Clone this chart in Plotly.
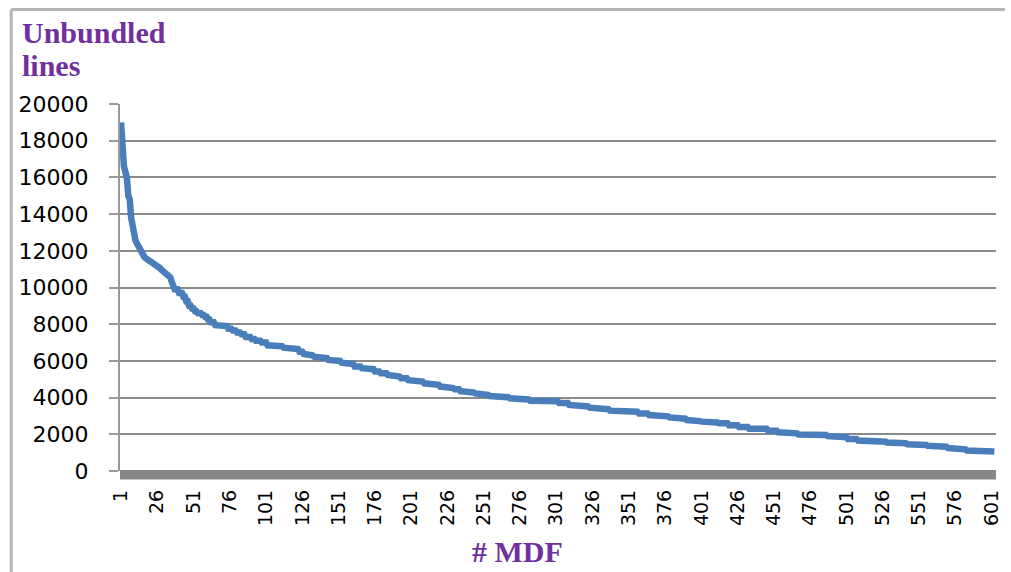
import plotly.graph_objects as go

# Unbundled lines per MDF, sorted in descending order.
# The first MDFs are listed one by one; the long tail is stored as
# runs of (lines, number of consecutive MDFs with that count).
head_lines = [
    19000, 17200, 16600, 16300, 16000, 15000, 14800, 13800, 13200, 12900,
    12550, 12400, 12250, 12000, 11850, 11750, 11680, 11600, 11550, 11500,
    11450, 11410, 11350, 11300, 11250, 11150, 11100, 11050, 10950, 10900,
    10850, 10750, 10700, 10620, 10550, 10300, 10050,
]
tail_lines = [
    9900, 9700, 9500, 9250, 9000, 8850, 8700, 8600, 8500, 8400,
    8250, 8100, 7950, 7900, 7750, 7650, 7550, 7450, 7300, 7200,
    7100, 7000, 6850, 6800, 6720, 6650, 6500, 6380, 6300, 6230,
    6150, 6050, 6000, 5900, 5830, 5700, 5600, 5550, 5420, 5330,
    5230, 5150, 5050, 4950, 4870, 4780, 4700, 4600, 4520, 4450,
    4350, 4280, 4230, 4150, 4090, 4020, 3960, 3900, 3830, 3800,
    3700, 3600, 3520, 3450, 3370, 3290, 3230, 3140, 3050, 2980,
    2920, 2850, 2780, 2720, 2690, 2640, 2600, 2500, 2400, 2300,
    2200, 2110, 2050, 1990, 1960, 1900, 1840, 1750, 1660, 1600,
    1550, 1510, 1460, 1420, 1370, 1320, 1250, 1180, 1120, 1090,
    1060,
]
tail_counts = [
    3, 3, 2, 2, 2, 2, 2, 3, 2, 2,
    2, 3, 4, 5, 3, 3, 3, 3, 4, 3,
    4, 4, 5, 6, 8, 3, 3, 3, 4, 5,
    5, 5, 4, 4, 5, 5, 5, 4, 4, 5,
    4, 5, 5, 6, 5, 5, 6, 5, 5, 4,
    5, 5, 4, 6, 7, 7, 7, 7, 7, 13,
    7, 7, 7, 7, 7, 7, 13, 7, 7, 7,
    7, 5, 6, 4, 5, 7, 7, 7, 7, 13,
    7, 7, 7, 7, 13, 7, 7, 7, 7, 13,
    7, 7, 7, 7, 7, 7, 7, 6, 7, 7,
    6,
]

lines = list(head_lines)
for value, count in zip(tail_lines, tail_counts):
    lines.extend([value] * count)
mdf = list(range(1, len(lines) + 1))

y_ticks = [0, 2000, 4000, 6000, 8000, 10000, 12000, 14000, 16000, 18000, 20000]
x_ticks = list(range(1, 602, 25))

PURPLE = "#7030A0"
GRID = "#8a8a8a"
FRAME = "#b4b4b4"

L, R, T, B = 120, 9, 104, 101
W = 1011 - L - R
H = 572 - T - B


def px_x(px):
    return (px - L) / W


def px_y(py):
    return (572 - B - py) / H


fig = go.Figure()
fig.add_trace(go.Scatter(
    x=mdf, y=lines, mode="lines",
    line=dict(color="#4A7EBB", width=6.5),
    hoverinfo="x+y", showlegend=False,
))

fig.update_layout(
    width=1011, height=572,
    margin=dict(l=L, r=R, t=T, b=B),
    paper_bgcolor="white", plot_bgcolor="white",
    font=dict(family="DejaVu Sans", color="black"),
    xaxis=dict(
        range=[0.3, 604.1], tickmode="array", tickvals=x_ticks,
        ticktext=[str(v) for v in x_ticks], tickangle=-90,
        tickfont=dict(size=19, family="DejaVu Sans"),
        showgrid=False, zeroline=False, showline=False,
        ticks="", ticklabelstandoff=14, ticklabeloverflow="allow",
    ),
    yaxis=dict(
        range=[0, 20000], tickmode="array", tickvals=y_ticks,
        ticktext=[str(v) for v in y_ticks],
        tickfont=dict(size=22, family="DejaVu Sans"),
        showgrid=True, gridcolor=GRID, gridwidth=2,
        zeroline=False, showline=True, linecolor="#9a9a9a", linewidth=2,
        ticks="outside", ticklen=9, tickcolor="#9a9a9a", tickwidth=2,
        ticklabelstandoff=16,
    ),
    shapes=[
        # heavy band along the category axis
        dict(type="rect", xref="paper", yref="paper",
             x0=0, x1=1, y0=px_y(479.5), y1=px_y(470),
             fillcolor="#888888", line=dict(width=0), layer="above"),
        # outer chart frame: top and left edges
        dict(type="line", xref="paper", yref="paper",
             x0=px_x(10.5), x1=px_x(1011), y0=px_y(9.5), y1=px_y(9.5),
             line=dict(color=FRAME, width=3), layer="below"),
        dict(type="line", xref="paper", yref="paper",
             x0=px_x(10.5), x1=px_x(10.5), y0=px_y(9.5), y1=px_y(572),
             line=dict(color=FRAME, width=3), layer="below"),
    ],
    annotations=[
        dict(text="<b>Unbundled</b>", xref="paper", yref="paper",
             x=px_x(19), y=px_y(32),
             xanchor="left", yanchor="middle", showarrow=False,
             font=dict(family="Liberation Serif", size=30, color=PURPLE)),
        dict(text="<b>lines</b>", xref="paper", yref="paper",
             x=px_x(19), y=px_y(65),
             xanchor="left", yanchor="middle", showarrow=False,
             font=dict(family="Liberation Serif", size=30, color=PURPLE)),
        dict(text="<b># MDF</b>", xref="paper", yref="paper",
             x=px_x(520), y=px_y(551),
             xanchor="center", yanchor="middle", showarrow=False,
             font=dict(family="Liberation Serif", size=30, color=PURPLE)),
    ],
)

fig.write_html("out.html")
